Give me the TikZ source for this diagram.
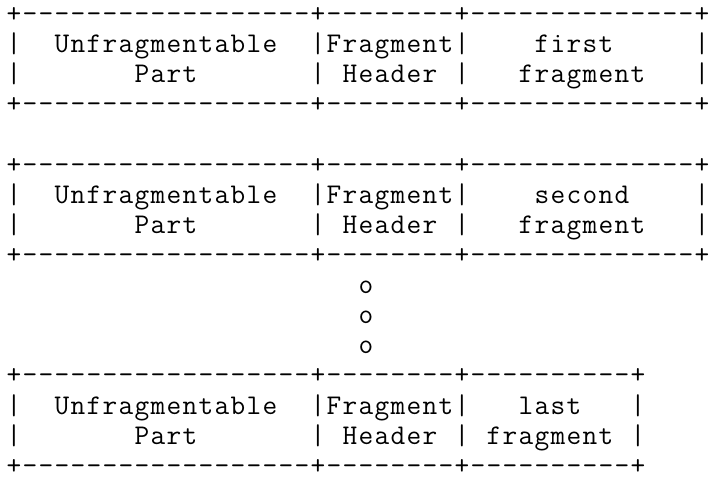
\documentclass[tikz,border=0pt]{standalone}
\usepackage{fontspec}
% every character sits in a 16pt wide cell, as in the reference's monospaced grid
\newcommand\asciifont{\ttfamily\fontsize{28.5pt}{30.1pt}\selectfont}
\def\cells#1{\cellsaux#1\relax}
\def\cellsaux#1{\ifx#1\relax\else\makebox[16pt][c]{#1}\expandafter\cellsaux\fi}
\tikzset{
  asc/.style={anchor=base west, inner sep=0pt, outer sep=0pt, font=\asciifont},
}
% line k baseline (from top) = 15.7 + 30.1 k + 7
\newcommand\lnY[1]{\fpeval{477-(15.7+30.1*#1+7)}}
\begin{document}
\begin{tikzpicture}[x=1pt,y=1pt]
\useasboundingbox (0,0) rectangle (710,477);
% first fragment
\node[asc] (l0)  at (6,\lnY{0})  {\cells{+------------------+--------+--------------+}};
\node[asc] (l1)  at (6,\lnY{1})  {\cells{|~~Unfragmentable~~|Fragment|~~~~first~~~~~|}};
\node[asc] (l2)  at (6,\lnY{2})  {\cells{|~~~~~~~Part~~~~~~~|~Header~|~~~fragment~~~|}};
\node[asc] (l3)  at (6,\lnY{3})  {\cells{+------------------+--------+--------------+}};
% second fragment
\node[asc] (l5)  at (6,\lnY{5})  {\cells{+------------------+--------+--------------+}};
\node[asc] (l6)  at (6,\lnY{6})  {\cells{|~~Unfragmentable~~|Fragment|~~~~second~~~~|}};
\node[asc] (l7)  at (6,\lnY{7})  {\cells{|~~~~~~~Part~~~~~~~|~Header~|~~~fragment~~~|}};
\node[asc] (l8)  at (6,\lnY{8})  {\cells{+------------------+--------+--------------+}};
% dots
\node[asc] (o1)  at (6+16*22,\lnY{9})  {\cells{o}};
\node[asc] (o2)  at (6+16*22,\lnY{10}) {\cells{o}};
\node[asc] (o3)  at (6+16*22,\lnY{11}) {\cells{o}};
% last fragment
\node[asc] (l12) at (6,\lnY{12}) {\cells{+------------------+--------+----------+}};
\node[asc] (l13) at (6,\lnY{13}) {\cells{|~~Unfragmentable~~|Fragment|~~~last~~~|}};
\node[asc] (l14) at (6,\lnY{14}) {\cells{|~~~~~~~Part~~~~~~~|~Header~|~fragment~|}};
\node[asc] (l15) at (6,\lnY{15}) {\cells{+------------------+--------+----------+}};
\end{tikzpicture}
\end{document}
